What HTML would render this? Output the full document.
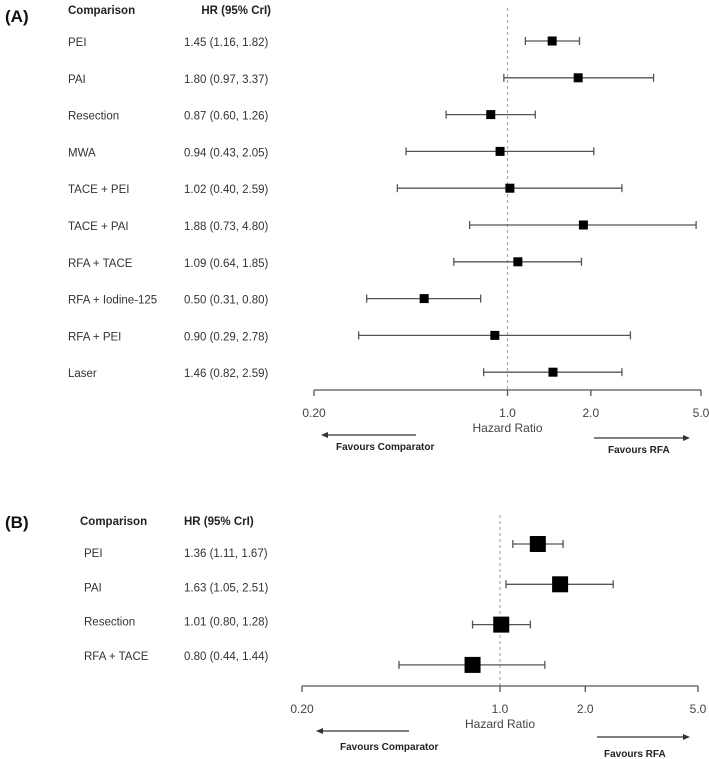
<!DOCTYPE html>
<html><head><meta charset="utf-8"><style>
body{margin:0;background:#fff;}
svg{display:block;font-family:"Liberation Sans",Arial,sans-serif;}
</style></head><body>
<svg id="chart" width="709" height="759" viewBox="0 0 709 759" xmlns="http://www.w3.org/2000/svg"></svg>
<script>
// Panel A data
const catsA = ["PEI","PAI","Resection","MWA","TACE + PEI","TACE + PAI","RFA + TACE","RFA + Iodine-125","RFA + PEI","Laser"];
const hrA = [1.45,1.80,0.87,0.94,1.02,1.88,1.09,0.50,0.90,1.46];
const loA = [1.16,0.97,0.60,0.43,0.40,0.73,0.64,0.31,0.29,0.82];
const hiA = [1.82,3.37,1.26,2.05,2.59,4.80,1.85,0.80,2.78,2.59];
// Panel B data
const catsB = ["PEI","PAI","Resection","RFA + TACE"];
const hrB = [1.36,1.63,1.01,0.80];
const loB = [1.11,1.05,0.80,0.44];
const hiB = [1.67,2.51,1.28,1.44];
const ticks = [0.2,1.0,2.0,5.0];
const tickLabels = ["0.20","1.0","2.0","5.0"];

const NS="http://www.w3.org/2000/svg";
const svg=document.getElementById('chart');
function mk(tag,attrs,parent,text){const e=document.createElementNS(NS,tag);for(const k in attrs)e.setAttribute(k,attrs[k]);if(text!==undefined)e.textContent=text;(parent||svg).appendChild(e);return e;}
const fmt=v=>v.toFixed(2);

function panel(o){
  const g=mk('g',{});
  
  
  const x=v=>o.x0+(Math.log(v)-Math.log(0.2))/(Math.log(5)-Math.log(0.2))*(o.x1-o.x0);
  const y=i=>o.rowY0+i*o.rowStep;
  const ty=i=>o.textY0+i*o.textStep;
  let t=mk('text',{x:5,y:o.labelY,'font-size':17,'font-weight':'bold',fill:'#111'},g,o.label);
  
  t=mk('text',{x:o.compX,y:o.headY,'font-size':11.5,'font-weight':'bold',fill:'#222'},g,'Comparison');
  
  t=mk('text',{x:o.hrX,y:o.headY,'font-size':11.5,'font-weight':'bold',fill:'#222','text-anchor':o.hrAnchor},g,'HR (95% CrI)');
  
  // reference line
  let l=mk('line',{x1:x(1),x2:x(1),y1:o.refTop,y2:o.axisY,stroke:'#aaa','stroke-dasharray':'3,3','stroke-width':1.2},g);
  
  o.cats.forEach((c,i)=>{
    let a=mk('text',{x:o.catX,y:ty(i)+4,'font-size':11.5,fill:'#333'},g,c);
    
    a=mk('text',{x:o.valX,y:ty(i)+4,'font-size':11.5,fill:'#333'},g,fmt(o.hr[i])+' ('+fmt(o.lo[i])+', '+fmt(o.hi[i])+')');
    
    const yy=y(i);
    let ci=mk('line',{x1:x(o.lo[i]),x2:x(o.hi[i]),y1:yy,y2:yy,stroke:'#555','stroke-width':1.3},g);
    
    [o.lo[i],o.hi[i]].forEach(v=>{let c2=mk('line',{x1:x(v),x2:x(v),y1:yy-4,y2:yy+4,stroke:'#555','stroke-width':1.3},g);
      });
    let s=o.sq;
    let r=mk('rect',{x:x(o.hr[i])-s/2,y:yy-s/2,width:s,height:s,fill:'#000'},g);
    
  });
  let ax=mk('line',{x1:x(0.2),x2:x(5),y1:o.axisY,y2:o.axisY,stroke:'#555','stroke-width':1.3},g);
  
  ticks.forEach((v,i)=>{
    let tk=mk('line',{x1:x(v),x2:x(v),y1:o.axisY,y2:o.axisY+6,stroke:'#555','stroke-width':1.3},g);
    
    let tl=mk('text',{x:x(v),y:o.axisY+27,'font-size':12,fill:'#444','text-anchor':'middle'},g,tickLabels[i]);
    
  });
  t=mk('text',{x:x(1),y:o.axisY+42,'font-size':12,fill:'#444','text-anchor':'middle'},g,'Hazard Ratio');
  
  // arrows
  let al=mk('line',{x1:o.lArrow[0]+6,x2:o.lArrow[1],y1:o.lArrowY,y2:o.lArrowY,stroke:'#333','stroke-width':1.2},g);
  
  mk('polygon',{points:`${o.lArrow[0]},${o.lArrowY} ${o.lArrow[0]+7},${o.lArrowY-3} ${o.lArrow[0]+7},${o.lArrowY+3}`,fill:'#333'},g);
  let ar=mk('line',{x1:o.rArrow[0],x2:o.rArrow[1]-6,y1:o.rArrowY,y2:o.rArrowY,stroke:'#333','stroke-width':1.2},g);
  
  mk('polygon',{points:`${o.rArrow[1]},${o.rArrowY} ${o.rArrow[1]-7},${o.rArrowY-3} ${o.rArrow[1]-7},${o.rArrowY+3}`,fill:'#333'},g);
  t=mk('text',{x:o.fcX,y:o.fcY,'font-size':10,'font-weight':'bold',fill:'#222'},g,'Favours Comparator');
  
  t=mk('text',{x:o.frX,y:o.frY,'font-size':10,'font-weight':'bold',fill:'#222'},g,'Favours RFA');
  
}

panel({name:'panel-a',label:'(A)',labelY:22,headY:14,compX:68,hrX:271,hrAnchor:'end',catX:68,valX:184,
  cats:catsA,hr:hrA,lo:loA,hi:hiA,x0:314,x1:701,rowY0:41,rowStep:36.8,textY0:42,textStep:36.8,sq:9,
  refTop:8,axisY:390,lArrow:[321,416],lArrowY:435,rArrow:[594,690],rArrowY:438,fcX:336,fcY:450,frX:608,frY:453});
panel({name:'panel-b',label:'(B)',labelY:528,headY:525,compX:80,hrX:184,hrAnchor:'start',catX:84,valX:184,
  cats:catsB,hr:hrB,lo:loB,hi:hiB,x0:302,x1:698,rowY0:544,rowStep:40.3,textY0:553,textStep:34.3,sq:16,
  refTop:515,axisY:686,lArrow:[316,409],lArrowY:731,rArrow:[597,690],rArrowY:737,fcX:340,fcY:750,frX:604,frY:757});
</script>
</body></html>
